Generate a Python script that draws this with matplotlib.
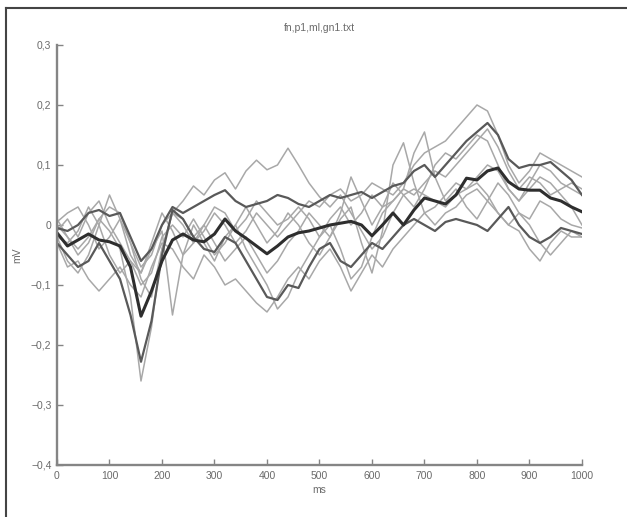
import numpy as np
import matplotlib
matplotlib.use("Agg")
import matplotlib.pyplot as plt
from matplotlib.lines import Line2D

plt.rcParams['font.family'] = ['Liberation Sans', 'DejaVu Sans']

# tiempo en ms, una muestra cada 20 ms
t = np.arange(0, 1001, 20)

mean_trace = [-0.013, -0.035, -0.025, -0.015, -0.025, -0.028, -0.035, -0.07, -0.152, -0.11,
              -0.06, -0.025, -0.015, -0.025, -0.028, -0.015, 0.01, -0.01, -0.022, -0.035,
              -0.048, -0.035, -0.02, -0.013, -0.01, -0.005, 0.0, 0.003, 0.006, 0.0,
              -0.018, 0.0, 0.02, 0.0, 0.025, 0.045, 0.04, 0.035, 0.05, 0.078,
              0.075, 0.09, 0.095, 0.072, 0.06, 0.058, 0.058, 0.045, 0.04, 0.03, 0.022]

dark1 = [-0.005, -0.01, 0.0, 0.02, 0.025, 0.015, 0.02, -0.02, -0.06, -0.04,
         0.0, 0.03, 0.02, 0.03, 0.04, 0.05, 0.058, 0.04, 0.03, 0.035,
         0.04, 0.05, 0.045, 0.035, 0.03, 0.04, 0.05, 0.045, 0.05, 0.055,
         0.045, 0.055, 0.065, 0.07, 0.09, 0.1, 0.08, 0.1, 0.12, 0.14,
         0.155, 0.17, 0.15, 0.11, 0.095, 0.1, 0.1, 0.105, 0.09, 0.075, 0.05]

dark2 = [-0.03, -0.05, -0.07, -0.06, -0.03, -0.06, -0.09, -0.15, -0.228, -0.16,
         -0.05, 0.025, 0.01, -0.02, -0.04, -0.045, -0.02, -0.03, -0.06, -0.09,
         -0.12, -0.125, -0.1, -0.105, -0.07, -0.04, -0.03, -0.06, -0.07, -0.05,
         -0.03, -0.04, -0.02, 0.0, 0.01, 0.0, -0.01, 0.005, 0.01, 0.005,
         0.0, -0.01, 0.01, 0.03, 0.0, -0.02, -0.03, -0.02, -0.005, -0.01, -0.015]

light1 = [0.0, -0.02, -0.04, -0.02, 0.01, -0.01, -0.04, -0.12, -0.26, -0.17,
          -0.04, 0.02, 0.0, -0.03, -0.01, 0.02, 0.0, -0.03, -0.01, 0.02,
          0.0, -0.02, 0.0, 0.02, 0.04, 0.03, 0.05, 0.06, 0.04, 0.05,
          0.07, 0.06, 0.05, 0.07, 0.1, 0.12, 0.13, 0.14, 0.16, 0.18,
          0.2, 0.19, 0.15, 0.1, 0.07, 0.09, 0.12, 0.11, 0.1, 0.09, 0.08]

light2 = [0.01, -0.02, -0.05, -0.03, 0.01, 0.03, 0.02, -0.03, -0.07, -0.05,
          0.0, 0.02, 0.04, 0.065, 0.05, 0.075, 0.087, 0.06, 0.09, 0.108,
          0.092, 0.1, 0.128, 0.1, 0.07, 0.047, 0.03, 0.05, 0.02, -0.01,
          -0.04, -0.02, 0.02, 0.05, 0.06, 0.05, 0.04, 0.03, 0.05, 0.06,
          0.07, 0.05, 0.02, 0.0, 0.02, 0.0, -0.03, -0.05, -0.03, -0.01, -0.02]

light3 = [-0.02, -0.06, -0.08, -0.05, 0.0, 0.05, 0.01, -0.05, -0.08, -0.03,
          0.02, -0.01, -0.05, -0.03, 0.0, -0.03, -0.06, -0.04, -0.02, -0.05,
          -0.08, -0.06, -0.03, -0.01, 0.02, 0.0, -0.02, 0.01, 0.03, -0.03,
          -0.08, -0.01, 0.1, 0.137, 0.07, 0.02, 0.03, 0.05, 0.07, 0.06,
          0.08, 0.1, 0.09, 0.06, 0.04, 0.06, 0.08, 0.07, 0.05, 0.03, 0.0]

light4 = [-0.02, -0.03, -0.01, 0.03, 0.0, -0.05, -0.08, -0.06, -0.08, -0.04,
          -0.01, -0.15, -0.05, 0.0, -0.03, -0.06, -0.02, 0.0, -0.04, -0.07,
          -0.1, -0.14, -0.12, -0.08, -0.05, -0.02, 0.0, -0.04, -0.09, -0.07,
          -0.02, 0.02, 0.04, 0.06, 0.12, 0.155, 0.08, 0.04, 0.06, 0.03,
          0.01, 0.04, 0.07, 0.05, 0.02, 0.01, 0.04, 0.03, 0.01, 0.0, -0.005]

light5 = [-0.03, -0.07, -0.06, -0.09, -0.11, -0.09, -0.07, -0.1, -0.12, -0.07,
          -0.03, -0.04, -0.07, -0.09, -0.05, -0.07, -0.1, -0.09, -0.11, -0.13,
          -0.145, -0.12, -0.09, -0.07, -0.09, -0.06, -0.04, -0.07, -0.11, -0.08,
          -0.05, -0.07, -0.04, -0.02, 0.0, 0.02, 0.0, 0.02, 0.03, 0.05,
          0.06, 0.04, 0.02, 0.0, -0.01, -0.04, -0.06, -0.03, -0.01, -0.02, -0.02]

light6 = [0.005, 0.02, 0.03, 0.0, -0.04, -0.02, 0.01, -0.03, -0.09, -0.12,
          -0.04, 0.02, 0.01, -0.02, 0.0, 0.03, 0.02, -0.01, 0.01, 0.04,
          0.02, 0.0, 0.01, 0.03, 0.01, -0.02, 0.01, 0.03, 0.0, 0.02,
          0.05, 0.03, 0.04, 0.06, 0.05, 0.07, 0.09, 0.08, 0.1, 0.12,
          0.14, 0.16, 0.13, 0.09, 0.06, 0.08, 0.07, 0.05, 0.06, 0.07, 0.06]

light7 = [-0.01, 0.01, -0.02, 0.02, 0.04, 0.0, -0.03, -0.06, -0.1, -0.08,
          -0.02, 0.0, -0.02, 0.01, -0.02, -0.05, -0.03, 0.0, 0.03, 0.0,
          -0.03, -0.01, 0.02, 0.0, -0.03, -0.05, -0.02, 0.02, 0.08, 0.04,
          0.0, 0.03, 0.07, 0.05, 0.03, 0.06, 0.1, 0.12, 0.11, 0.13,
          0.15, 0.14, 0.1, 0.06, 0.04, 0.07, 0.1, 0.09, 0.07, 0.06, 0.05]

xticks = [0, 100, 200, 300, 400, 500, 600, 700, 800, 900, 1000]
yticks = [-0.4, -0.3, -0.2, -0.1, 0, 0.1, 0.2, 0.3]
ylabels = ['\u22120,4', '\u22120,3', '\u22120,2', '\u22120,1', '0', '0,1', '0,2', '0,3']

fig = plt.figure(figsize=(6.27, 5.17), dpi=100)
ax = fig.add_axes([0.0909, 0.1006, 0.8373, 0.8124])

# primero las curvas claras, luego las oscuras y la media encima
for y in [light1, light2, light3, light4, light5, light6, light7]:
    ax.plot(t, y, color='#a8a8a8', lw=1.1)
for y in [dark1, dark2]:
    ax.plot(t, y, color='#595959', lw=1.6)
ax.plot(t, mean_trace, color='#2e2e2e', lw=2.2)

ax.set_xlim(0, 1000)
ax.set_ylim(-0.4, 0.3)
ax.set_xticks(xticks)
ax.set_yticks(yticks)
ax.set_yticklabels(ylabels)

for s in ['top', 'right']:
    ax.spines[s].set_visible(False)
for s in ['left', 'bottom']:
    ax.spines[s].set_color('#858585')
    ax.spines[s].set_linewidth(1.7)
ax.tick_params(direction='in', length=4, width=1, color='#858585',
               labelsize=7.5, labelcolor='#6a6a6a', pad=4)

ax.set_title('fn,p1,ml,gn1.txt', fontsize=7.5, color='#6a6a6a', pad=10)
ax.set_xlabel('ms', fontsize=7.5, color='#6a6a6a', labelpad=3)
ax.set_ylabel('mV', fontsize=7.5, color='#6a6a6a', labelpad=6)

# marco exterior (arriba e izquierda)
fig.add_artist(Line2D([6 / 627, 1], [1 - 8 / 517, 1 - 8 / 517], color='#444444', lw=1.5))
fig.add_artist(Line2D([6 / 627, 6 / 627], [0, 1 - 8 / 517], color='#444444', lw=1.5))

fig.savefig('out.png', dpi=100)
